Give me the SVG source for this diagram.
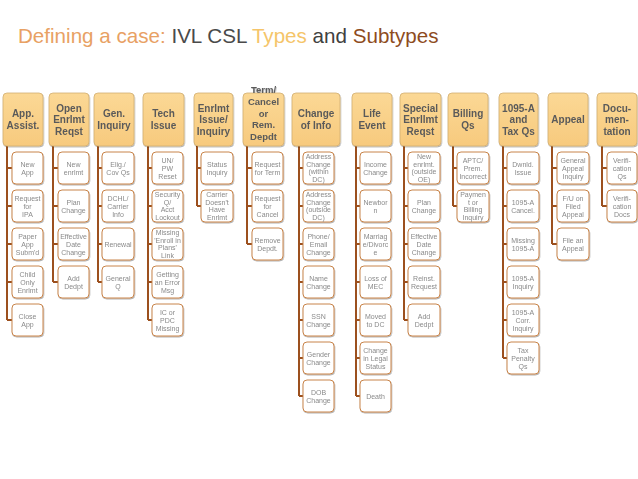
<svg xmlns="http://www.w3.org/2000/svg" width="638" height="479" viewBox="0 0 638 479">
<style>
.title{font-family:"Liberation Sans",Arial,sans-serif;font-size:20.6px}
.hdr rect{fill:url(#hg);stroke:#d2ae72;stroke-width:0.8}
.hdr text{font-family:"Liberation Sans",Arial,sans-serif;font-size:10px;font-weight:bold;fill:#5a5a5a;text-anchor:middle}
.ch rect{fill:#fff;stroke:#c8844a;stroke-width:1}
.ch text{font-family:"Liberation Sans",Arial,sans-serif;font-size:7px;fill:#8a8a8a;text-anchor:middle}
#connectors path{fill:none;stroke:#9c501e;stroke-width:2}
</style>
<defs>
<linearGradient id="hg" x1="0" y1="0" x2="0" y2="1"><stop offset="0" stop-color="#fbd895"/><stop offset="1" stop-color="#f7ca7e"/></linearGradient>
<filter id="sh" x="-20%" y="-20%" width="140%" height="140%"><feDropShadow dx="0.6" dy="1" stdDeviation="0.7" flood-color="#000" flood-opacity="0.3"/></filter>
</defs>
<rect width="638" height="479" fill="#fff"/>
<text class="title" x="18" y="43"><tspan fill="#e8a164">Defining a case: </tspan><tspan fill="#4a4a4a">IVL CSL </tspan><tspan fill="#f5c56a">Types</tspan><tspan fill="#404040"> and </tspan><tspan fill="#8e4c1e">Subtypes</tspan></text>

<g id="connectors">
<path d="M7 146V320M7 168H12M7 206H12M7 244H12M7 282H12M7 320H12"/>
<path d="M53 146V282M53 168H58M53 206H58M53 244H58M53 282H58"/>
<path d="M98 146V282M98 168H102M98 206H102M98 244H102M98 282H102"/>
<path d="M148 146V320M148 168H152M148 206H152M148 244H152M148 282H152M148 320H152"/>
<path d="M197 146V206M197 168H201M197 206H201"/>
<path d="M247 146V244M247 168H252M247 206H252M247 244H252"/>
<path d="M299 146V396M299 168H303M299 206H303M299 244H303M299 282H303M299 320H303M299 358H303M299 396H303"/>
<path d="M356 146V396M356 168H360M356 206H360M356 244H360M356 282H360M356 320H360M356 358H360M356 396H360"/>
<path d="M404 146V320M404 168H408M404 206H408M404 244H408M404 282H408M404 320H408"/>
<path d="M453 146V206M453 168H457M453 206H457"/>
<path d="M503 146V358M503 168H507M503 206H507M503 244H507M503 282H507M503 320H507M503 358H507"/>
<path d="M552 146V244M552 168H557M552 206H557M552 244H557"/>
<path d="M602 146V206M602 168H607M602 206H607"/>
</g>

<g id="h1" class="hdr" filter="url(#sh)"><rect x="3" y="93" width="40" height="53" rx="4"/><text x="23" y="117.25"><tspan x="23">App.</tspan><tspan x="23" dy="11.5">Assist.</tspan></text></g>
<g id="h2" class="hdr" filter="url(#sh)"><rect x="49" y="93" width="40" height="53" rx="4"/><text x="69" y="111.5"><tspan x="69">Open</tspan><tspan x="69" dy="11.5">Enrlmt</tspan><tspan x="69" dy="11.5">Reqst</tspan></text></g>
<g id="h3" class="hdr" filter="url(#sh)"><rect x="94" y="93" width="40" height="53" rx="4"/><text x="114" y="117.25"><tspan x="114">Gen.</tspan><tspan x="114" dy="11.5">Inquiry</tspan></text></g>
<g id="h4" class="hdr" filter="url(#sh)"><rect x="143" y="93" width="41" height="53" rx="4"/><text x="163.5" y="117.25"><tspan x="163.5">Tech</tspan><tspan x="163.5" dy="11.5">Issue</tspan></text></g>
<g id="h5" class="hdr" filter="url(#sh)"><rect x="194" y="93" width="39" height="53" rx="4"/><text x="213.5" y="111.5"><tspan x="213.5">Enrlmt</tspan><tspan x="213.5" dy="11.5">Issue/</tspan><tspan x="213.5" dy="11.5">Inquiry</tspan></text></g>
<g id="h6" class="hdr" filter="url(#sh)"><rect x="243" y="93" width="41" height="53" rx="4"/><text x="263.5" y="93" style="font-size:9.5px"><tspan x="263.5">Term/</tspan><tspan x="263.5" dy="11.75">Cancel</tspan><tspan x="263.5" dy="11.75">or</tspan><tspan x="263.5" dy="11.75">Rem.</tspan><tspan x="263.5" dy="11.75">Depdt</tspan></text></g>
<g id="h7" class="hdr" filter="url(#sh)"><rect x="292" y="93" width="48" height="53" rx="4"/><text x="316" y="117.25"><tspan x="316">Change</tspan><tspan x="316" dy="11.5">of Info</tspan></text></g>
<g id="h8" class="hdr" filter="url(#sh)"><rect x="352" y="93" width="40" height="53" rx="4"/><text x="372" y="117.25"><tspan x="372">Life</tspan><tspan x="372" dy="11.5">Event</tspan></text></g>
<g id="h9" class="hdr" filter="url(#sh)"><rect x="400" y="93" width="41" height="53" rx="4"/><text x="420.5" y="111.5"><tspan x="420.5">Special</tspan><tspan x="420.5" dy="11.5">Enrllmt</tspan><tspan x="420.5" dy="11.5">Reqst</tspan></text></g>
<g id="h10" class="hdr" filter="url(#sh)"><rect x="448" y="93" width="40" height="53" rx="4"/><text x="468" y="117.25"><tspan x="468">Billing</tspan><tspan x="468" dy="11.5">Qs</tspan></text></g>
<g id="h11" class="hdr" filter="url(#sh)"><rect x="499" y="93" width="39" height="53" rx="4"/><text x="518.5" y="111.5"><tspan x="518.5">1095-A</tspan><tspan x="518.5" dy="11.5">and</tspan><tspan x="518.5" dy="11.5">Tax Qs</tspan></text></g>
<g id="h12" class="hdr" filter="url(#sh)"><rect x="548" y="93" width="40" height="53" rx="4"/><text x="568" y="123">Appeal</text></g>
<g id="h13" class="hdr" filter="url(#sh)"><rect x="597" y="93" width="40" height="53" rx="4"/><text x="617" y="111.5"><tspan x="617">Docu-</tspan><tspan x="617" dy="11.5">men-</tspan><tspan x="617" dy="11.5">tation</tspan></text></g>

<g id="c1a" class="ch" filter="url(#sh)"><rect x="12" y="152" width="31" height="32" rx="4"/><text y="166.5"><tspan x="27.5">New</tspan><tspan x="27.5" dy="8">App</tspan></text></g>
<g id="c1b" class="ch" filter="url(#sh)"><rect x="12" y="190" width="31" height="32" rx="4"/><text y="200.5"><tspan x="27.5">Request</tspan><tspan x="27.5" dy="8">for</tspan><tspan x="27.5" dy="8">IPA</tspan></text></g>
<g id="c1c" class="ch" filter="url(#sh)"><rect x="12" y="228" width="31" height="32" rx="4"/><text y="238.5"><tspan x="27.5">Paper</tspan><tspan x="27.5" dy="8">App</tspan><tspan x="27.5" dy="8">Subm'd</tspan></text></g>
<g id="c1d" class="ch" filter="url(#sh)"><rect x="12" y="266" width="31" height="32" rx="4"/><text y="276.5"><tspan x="27.5">Child</tspan><tspan x="27.5" dy="8">Only</tspan><tspan x="27.5" dy="8">Enrlmt</tspan></text></g>
<g id="c1e" class="ch" filter="url(#sh)"><rect x="12" y="304" width="31" height="32" rx="4"/><text y="318.5"><tspan x="27.5">Close</tspan><tspan x="27.5" dy="8">App</tspan></text></g>

<g id="c2a" class="ch" filter="url(#sh)"><rect x="58" y="152" width="31" height="32" rx="4"/><text y="166.5"><tspan x="73.5">New</tspan><tspan x="73.5" dy="8">enrlmt</tspan></text></g>
<g id="c2b" class="ch" filter="url(#sh)"><rect x="58" y="190" width="31" height="32" rx="4"/><text y="204.5"><tspan x="73.5">Plan</tspan><tspan x="73.5" dy="8">Change</tspan></text></g>
<g id="c2c" class="ch" filter="url(#sh)"><rect x="58" y="228" width="31" height="32" rx="4"/><text y="238.5"><tspan x="73.5">Effective</tspan><tspan x="73.5" dy="8">Date</tspan><tspan x="73.5" dy="8">Change</tspan></text></g>
<g id="c2d" class="ch" filter="url(#sh)"><rect x="58" y="266" width="31" height="32" rx="4"/><text y="280.5"><tspan x="73.5">Add</tspan><tspan x="73.5" dy="8">Dedpt</tspan></text></g>

<g id="c3a" class="ch" filter="url(#sh)"><rect x="102" y="152" width="32" height="32" rx="4"/><text y="166.5"><tspan x="118">Elig./</tspan><tspan x="118" dy="8">Cov Qs</tspan></text></g>
<g id="c3b" class="ch" filter="url(#sh)"><rect x="102" y="190" width="32" height="32" rx="4"/><text y="200.5"><tspan x="118">DCHL/</tspan><tspan x="118" dy="8">Carrier</tspan><tspan x="118" dy="8">Info</tspan></text></g>
<g id="c3c" class="ch" filter="url(#sh)"><rect x="102" y="228" width="32" height="32" rx="4"/><text x="118" y="246.5">Renewal</text></g>
<g id="c3d" class="ch" filter="url(#sh)"><rect x="102" y="266" width="32" height="32" rx="4"/><text y="280.5"><tspan x="118">General</tspan><tspan x="118" dy="8">Q</tspan></text></g>

<g id="c4a" class="ch" filter="url(#sh)"><rect x="152" y="152" width="31" height="32" rx="4"/><text y="162.5"><tspan x="167.5">UN/</tspan><tspan x="167.5" dy="8">PW</tspan><tspan x="167.5" dy="8">Reset</tspan></text></g>
<g id="c4b" class="ch" filter="url(#sh)"><rect x="152" y="190" width="31" height="32" rx="4"/><text y="197.25"><tspan x="167.5">Security</tspan><tspan x="167.5" dy="7.5">Q/</tspan><tspan x="167.5" dy="7.5">Acct</tspan><tspan x="167.5" dy="7.5">Lockout</tspan></text></g>
<g id="c4c" class="ch" filter="url(#sh)"><rect x="152" y="228" width="31" height="32" rx="4"/><text y="235.25"><tspan x="167.5">Missing</tspan><tspan x="167.5" dy="7.5">'Enroll in</tspan><tspan x="167.5" dy="7.5">Plans'</tspan><tspan x="167.5" dy="7.5">Link</tspan></text></g>
<g id="c4d" class="ch" filter="url(#sh)"><rect x="152" y="266" width="31" height="32" rx="4"/><text y="276.5"><tspan x="167.5">Getting</tspan><tspan x="167.5" dy="8">an Error</tspan><tspan x="167.5" dy="8">Msg</tspan></text></g>
<g id="c4e" class="ch" filter="url(#sh)"><rect x="152" y="304" width="31" height="32" rx="4"/><text y="314.5"><tspan x="167.5">IC or</tspan><tspan x="167.5" dy="8">PDC</tspan><tspan x="167.5" dy="8">Missing</tspan></text></g>

<g id="c5a" class="ch" filter="url(#sh)"><rect x="201" y="152" width="32" height="32" rx="4"/><text y="166.5"><tspan x="217">Status</tspan><tspan x="217" dy="8">Inquiry</tspan></text></g>
<g id="c5b" class="ch" filter="url(#sh)"><rect x="201" y="190" width="32" height="32" rx="4"/><text y="197.25"><tspan x="217">Carrier</tspan><tspan x="217" dy="7.5">Doesn't</tspan><tspan x="217" dy="7.5">Have</tspan><tspan x="217" dy="7.5">Enrlmt</tspan></text></g>

<g id="c6a" class="ch" filter="url(#sh)"><rect x="252" y="152" width="31" height="32" rx="4"/><text y="166.5"><tspan x="267.5">Request</tspan><tspan x="267.5" dy="8">for  Term</tspan></text></g>
<g id="c6b" class="ch" filter="url(#sh)"><rect x="252" y="190" width="31" height="32" rx="4"/><text y="200.5"><tspan x="267.5">Request</tspan><tspan x="267.5" dy="8">for</tspan><tspan x="267.5" dy="8">Cancel</tspan></text></g>
<g id="c6c" class="ch" filter="url(#sh)"><rect x="252" y="228" width="31" height="32" rx="4"/><text y="242.5"><tspan x="267.5">Remove</tspan><tspan x="267.5" dy="8">Depdt.</tspan></text></g>

<g id="c7a" class="ch" filter="url(#sh)"><rect x="303" y="152" width="31" height="32" rx="4"/><text y="159.25"><tspan x="318.5">Address</tspan><tspan x="318.5" dy="7.5">Change</tspan><tspan x="318.5" dy="7.5">(within</tspan><tspan x="318.5" dy="7.5">DC)</tspan></text></g>
<g id="c7b" class="ch" filter="url(#sh)"><rect x="303" y="190" width="31" height="32" rx="4"/><text y="197.25"><tspan x="318.5">Address</tspan><tspan x="318.5" dy="7.5">Change</tspan><tspan x="318.5" dy="7.5">(outside</tspan><tspan x="318.5" dy="7.5">DC)</tspan></text></g>
<g id="c7c" class="ch" filter="url(#sh)"><rect x="303" y="228" width="31" height="32" rx="4"/><text y="238.5"><tspan x="318.5">Phone/</tspan><tspan x="318.5" dy="8">Email</tspan><tspan x="318.5" dy="8">Change</tspan></text></g>
<g id="c7d" class="ch" filter="url(#sh)"><rect x="303" y="266" width="31" height="32" rx="4"/><text y="280.5"><tspan x="318.5">Name</tspan><tspan x="318.5" dy="8">Change</tspan></text></g>
<g id="c7e" class="ch" filter="url(#sh)"><rect x="303" y="304" width="31" height="32" rx="4"/><text y="318.5"><tspan x="318.5">SSN</tspan><tspan x="318.5" dy="8">Change</tspan></text></g>
<g id="c7f" class="ch" filter="url(#sh)"><rect x="303" y="342" width="31" height="32" rx="4"/><text y="356.5"><tspan x="318.5">Gender</tspan><tspan x="318.5" dy="8">Change</tspan></text></g>
<g id="c7g" class="ch" filter="url(#sh)"><rect x="303" y="380" width="31" height="32" rx="4"/><text y="394.5"><tspan x="318.5">DOB</tspan><tspan x="318.5" dy="8">Change</tspan></text></g>

<g id="c8a" class="ch" filter="url(#sh)"><rect x="360" y="152" width="31" height="32" rx="4"/><text y="166.5"><tspan x="375.5">Income</tspan><tspan x="375.5" dy="8">Change</tspan></text></g>
<g id="c8b" class="ch" filter="url(#sh)"><rect x="360" y="190" width="31" height="32" rx="4"/><text y="204.5"><tspan x="375.5">Newbor</tspan><tspan x="375.5" dy="8">n</tspan></text></g>
<g id="c8c" class="ch" filter="url(#sh)"><rect x="360" y="228" width="31" height="32" rx="4"/><text y="238.5"><tspan x="375.5">Marriag</tspan><tspan x="375.5" dy="8">e/Divorc</tspan><tspan x="375.5" dy="8">e</tspan></text></g>
<g id="c8d" class="ch" filter="url(#sh)"><rect x="360" y="266" width="31" height="32" rx="4"/><text y="280.5"><tspan x="375.5">Loss of</tspan><tspan x="375.5" dy="8">MEC</tspan></text></g>
<g id="c8e" class="ch" filter="url(#sh)"><rect x="360" y="304" width="31" height="32" rx="4"/><text y="318.5"><tspan x="375.5">Moved</tspan><tspan x="375.5" dy="8">to DC</tspan></text></g>
<g id="c8f" class="ch" filter="url(#sh)"><rect x="360" y="342" width="31" height="32" rx="4"/><text y="352.5"><tspan x="375.5">Change</tspan><tspan x="375.5" dy="8">in Legal</tspan><tspan x="375.5" dy="8">Status</tspan></text></g>
<g id="c8g" class="ch" filter="url(#sh)"><rect x="360" y="380" width="31" height="32" rx="4"/><text x="375.5" y="398.5">Death</text></g>

<g id="c9a" class="ch" filter="url(#sh)"><rect x="408" y="152" width="32" height="32" rx="4"/><text y="159.25"><tspan x="424">New</tspan><tspan x="424" dy="7.5">enrlmt.</tspan><tspan x="424" dy="7.5">(outside</tspan><tspan x="424" dy="7.5">OE)</tspan></text></g>
<g id="c9b" class="ch" filter="url(#sh)"><rect x="408" y="190" width="32" height="32" rx="4"/><text y="204.5"><tspan x="424">Plan</tspan><tspan x="424" dy="8">Change</tspan></text></g>
<g id="c9c" class="ch" filter="url(#sh)"><rect x="408" y="228" width="32" height="32" rx="4"/><text y="238.5"><tspan x="424">Effective</tspan><tspan x="424" dy="8">Date</tspan><tspan x="424" dy="8">Change</tspan></text></g>
<g id="c9d" class="ch" filter="url(#sh)"><rect x="408" y="266" width="32" height="32" rx="4"/><text y="280.5"><tspan x="424">Reinst.</tspan><tspan x="424" dy="8">Request</tspan></text></g>
<g id="c9e" class="ch" filter="url(#sh)"><rect x="408" y="304" width="32" height="32" rx="4"/><text y="318.5"><tspan x="424">Add</tspan><tspan x="424" dy="8">Dedpt</tspan></text></g>

<g id="c10a" class="ch" filter="url(#sh)"><rect x="457" y="152" width="32" height="32" rx="4"/><text y="162.5"><tspan x="473">APTC/</tspan><tspan x="473" dy="8">Prem.</tspan><tspan x="473" dy="8">Incorrect</tspan></text></g>
<g id="c10b" class="ch" filter="url(#sh)"><rect x="457" y="190" width="32" height="32" rx="4"/><text y="197.25"><tspan x="473">Paymen</tspan><tspan x="473" dy="7.5">t or</tspan><tspan x="473" dy="7.5">Billing</tspan><tspan x="473" dy="7.5">Inquiry</tspan></text></g>

<g id="c11a" class="ch" filter="url(#sh)"><rect x="507" y="152" width="32" height="32" rx="4"/><text y="166.5"><tspan x="523">Dwnld.</tspan><tspan x="523" dy="8">Issue</tspan></text></g>
<g id="c11b" class="ch" filter="url(#sh)"><rect x="507" y="190" width="32" height="32" rx="4"/><text y="204.5"><tspan x="523">1095-A</tspan><tspan x="523" dy="8">Cancel.</tspan></text></g>
<g id="c11c" class="ch" filter="url(#sh)"><rect x="507" y="228" width="32" height="32" rx="4"/><text y="242.5"><tspan x="523">Missing</tspan><tspan x="523" dy="8">1095-A</tspan></text></g>
<g id="c11d" class="ch" filter="url(#sh)"><rect x="507" y="266" width="32" height="32" rx="4"/><text y="280.5"><tspan x="523">1095-A</tspan><tspan x="523" dy="8">Inquiry</tspan></text></g>
<g id="c11e" class="ch" filter="url(#sh)"><rect x="507" y="304" width="32" height="32" rx="4"/><text y="314.5"><tspan x="523">1095-A</tspan><tspan x="523" dy="8">Corr.</tspan><tspan x="523" dy="8">Inquiry</tspan></text></g>
<g id="c11f" class="ch" filter="url(#sh)"><rect x="507" y="342" width="32" height="32" rx="4"/><text y="352.5"><tspan x="523">Tax</tspan><tspan x="523" dy="8">Penalty</tspan><tspan x="523" dy="8">Qs</tspan></text></g>

<g id="c12a" class="ch" filter="url(#sh)"><rect x="557" y="152" width="32" height="32" rx="4"/><text y="162.5"><tspan x="573">General</tspan><tspan x="573" dy="8">Appeal</tspan><tspan x="573" dy="8">Inquiry</tspan></text></g>
<g id="c12b" class="ch" filter="url(#sh)"><rect x="557" y="190" width="32" height="32" rx="4"/><text y="200.5"><tspan x="573">F/U on</tspan><tspan x="573" dy="8">Filed</tspan><tspan x="573" dy="8">Appeal</tspan></text></g>
<g id="c12c" class="ch" filter="url(#sh)"><rect x="557" y="228" width="32" height="32" rx="4"/><text y="242.5"><tspan x="573">File an</tspan><tspan x="573" dy="8">Appeal</tspan></text></g>

<g id="c13a" class="ch" filter="url(#sh)"><rect x="607" y="152" width="30" height="32" rx="4"/><text y="162.5"><tspan x="622">Verifi-</tspan><tspan x="622" dy="8">cation</tspan><tspan x="622" dy="8">Qs</tspan></text></g>
<g id="c13b" class="ch" filter="url(#sh)"><rect x="607" y="190" width="30" height="32" rx="4"/><text y="200.5"><tspan x="622">Verifi-</tspan><tspan x="622" dy="8">cation</tspan><tspan x="622" dy="8">Docs</tspan></text></g>
</svg>
